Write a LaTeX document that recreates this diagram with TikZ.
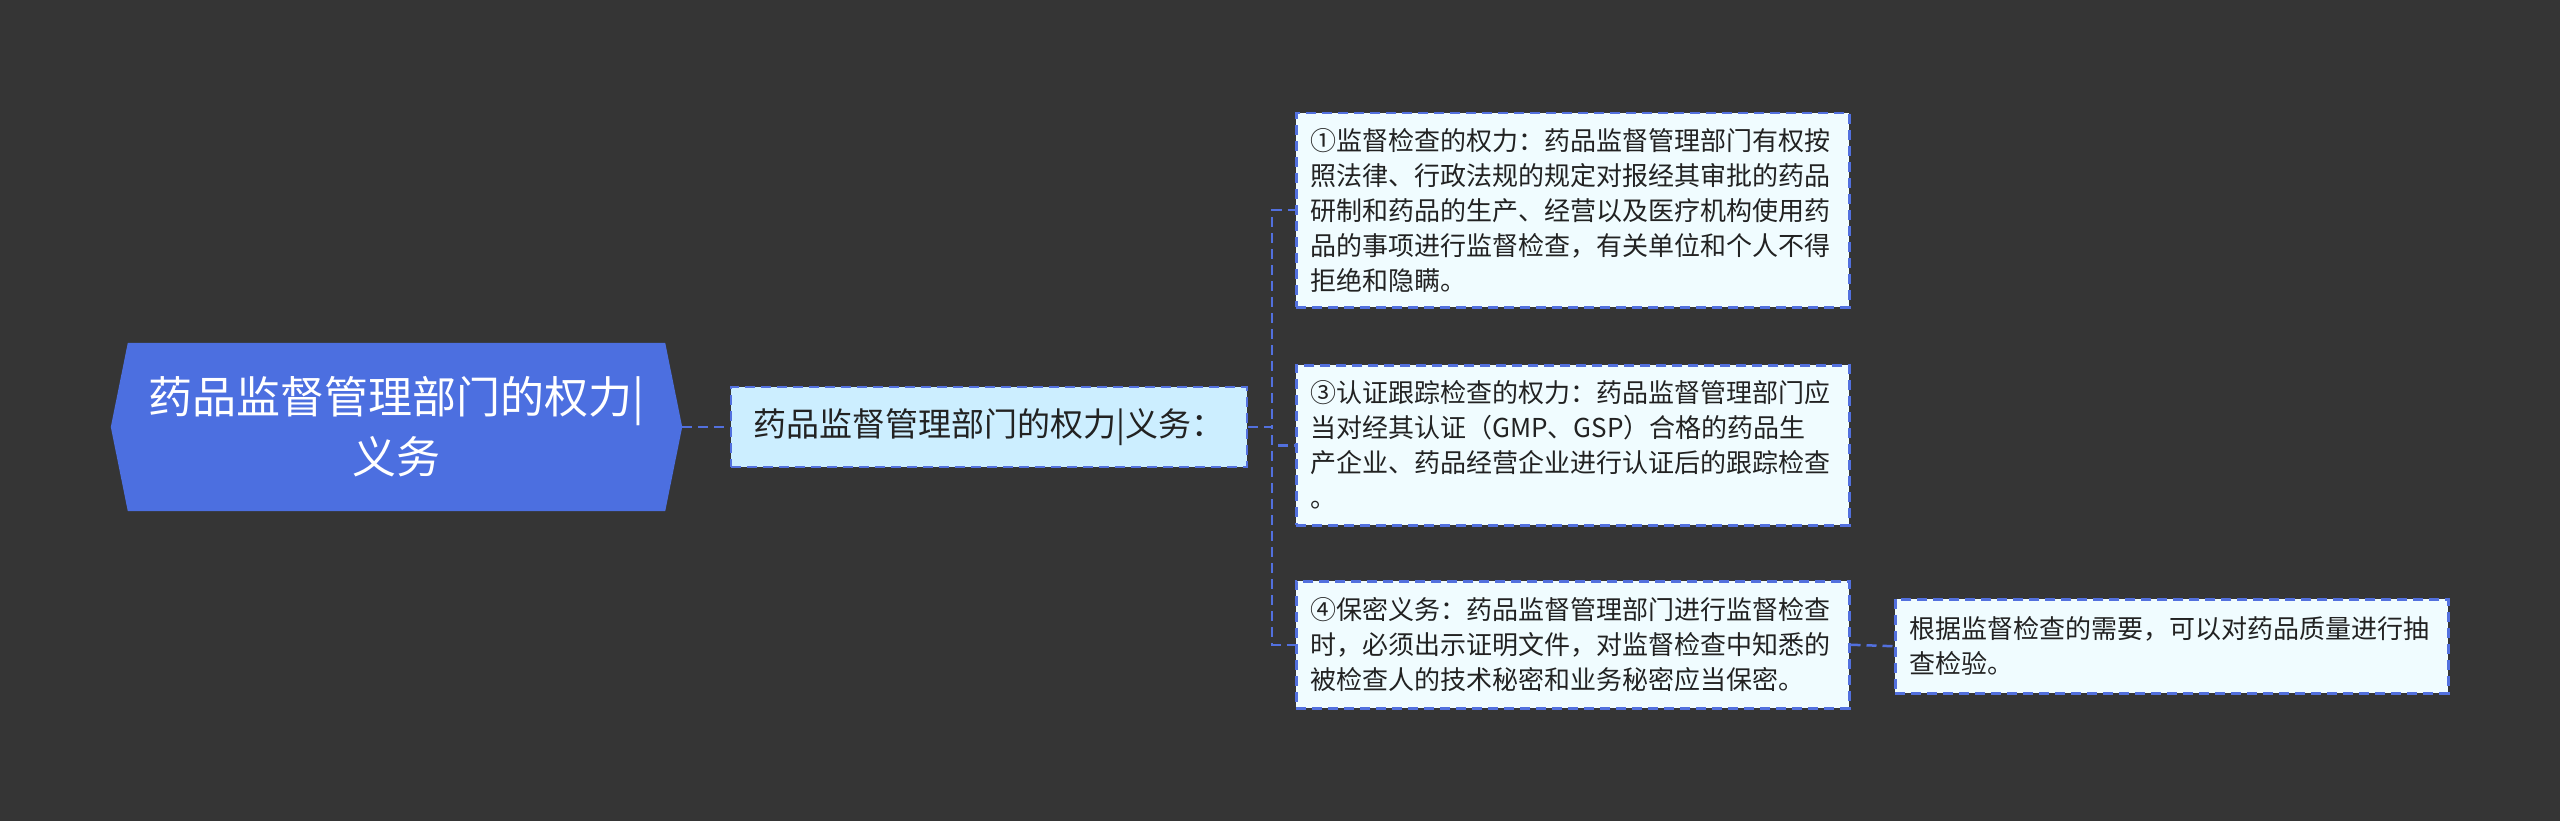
\documentclass[tikz,border=0pt]{standalone}
\usepackage{fontspec}
\setmainfont{Noto Sans CJK SC}
\usetikzlibrary{backgrounds}

\definecolor{bgdark}{RGB}{53,53,53}
\definecolor{rootblue}{RGB}{76,111,224}
\definecolor{linkblue}{RGB}{82,112,222}
\definecolor{lvlfill}{RGB}{204,238,255}
\definecolor{leaffill}{RGB}{240,252,255}
\definecolor{inkgray}{RGB}{34,34,34}

\begin{document}
\begin{tikzpicture}[x=1pt,y=-1pt,
    rootbox/.style={minimum width=571pt,minimum height=168pt,inner sep=0pt,
        align=center,text=white,font=\fontsize{44}{60}\selectfont},
    linkline/.style={draw=linkblue,line width=2.5pt,dash pattern=on 10pt off 6pt},
    topicbox/.style={linkline,fill=lvlfill,text=inkgray,minimum width=516pt,
        minimum height=80pt,inner sep=0pt,font=\fontsize{33}{40}\selectfont},
    leafbox/.style={linkline,fill=leaffill,text=inkgray,anchor=north west,
        inner xsep=14pt,inner ysep=0pt,text width=525pt,align=left,
        font=\fontsize{26}{35}\selectfont}]
    \useasboundingbox (0,0) rectangle (2560,821);

    %root and topic
    \node[rootbox] (root) at (396.5,427) {药品监督管理部门的权力|\\义务};
    \node[topicbox] (lvl) at (989,427) {药品监督管理部门的权力|义务：};
    \coordinate (trunk) at (1272,427);

    %leaves
    \node[leafbox,minimum height=194pt] (pow1) at (1295,112)
        {①监督检查的权力：药品监督管理部门有权按\\
         照法律、行政法规的规定对报经其审批的药品\\
         研制和药品的生产、经营以及医疗机构使用药\\
         品的事项进行监督检查，有关单位和个人不得\\
         拒绝和隐瞒。};
    \node[leafbox,minimum height=160pt] (pow3) at (1295,364)
        {③认证跟踪检查的权力：药品监督管理部门应\\
         当对经其认证（GMP、GSP）合格的药品生\\
         产企业、药品经营企业进行认证后的跟踪检查\\
         。};
    \node[leafbox,minimum height=127pt] (duty4) at (1295,580)
        {④保密义务：药品监督管理部门进行监督检查\\
         时，必须出示证明文件，对监督检查中知悉的\\
         被检查人的技术秘密和业务秘密应当保密。};
    \node[leafbox,minimum height=94pt] (check) at (1894,598)
        {根据监督检查的需要，可以对药品质量进行抽\\
         查检验。};

    %links
    \draw[linkline] (root.east) -- (lvl.west);
    \foreach \b in {pow1,pow3,duty4}
        \draw[linkline] (lvl.east) -- (lvl.east -| trunk) |- (\b.west);
    \draw[linkline] (duty4.east) -- (check.west);

    \begin{pgfonlayer}{background}
        \fill[bgdark] (0,0) rectangle (2560,821);
        \fill[rootblue] (root.west) -- ([xshift=17pt]root.north west)
            -- ([xshift=-17pt]root.north east) -- (root.east)
            -- ([xshift=-17pt]root.south east) -- ([xshift=17pt]root.south west)
            -- cycle;
    \end{pgfonlayer}
\end{tikzpicture}
\end{document}
